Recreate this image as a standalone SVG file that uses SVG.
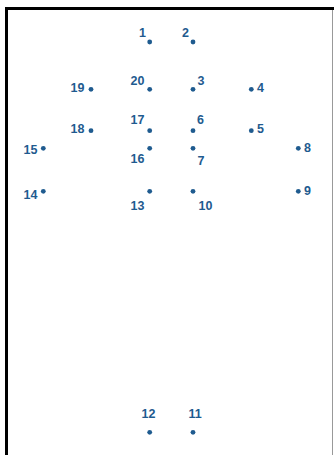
<svg xmlns="http://www.w3.org/2000/svg" width="334" height="455" viewBox="0 0 334 455">
<style>
.d{fill:#1f5b8f}
.t{font-family:"Liberation Sans",Arial,sans-serif;font-weight:bold;font-size:12.5px;fill:#1f5b8f}
.e{text-anchor:end}
</style>
<rect width="334" height="455" fill="#fff"/>
<line x1="5" y1="8.5" x2="334" y2="8.5" stroke="#000" stroke-width="3"/>
<line x1="6.5" y1="7" x2="6.5" y2="455" stroke="#000" stroke-width="3"/>
<line x1="332.5" y1="10" x2="332.5" y2="455" stroke="#999" stroke-width="1"/>
<g id="connectors"></g>
<g id="p1"><circle class="d" cx="149.7" cy="42" r="2.4"/><text class="t e" x="146" y="37">1</text></g>
<g id="p2"><circle class="d" cx="193" cy="42" r="2.4"/><text class="t e" x="189" y="37">2</text></g>
<g id="p3"><circle class="d" cx="193" cy="89.3" r="2.4"/><text class="t" x="197.5" y="85">3</text></g>
<g id="p4"><circle class="d" cx="251.3" cy="89.3" r="2.4"/><text class="t" x="257" y="92">4</text></g>
<g id="p5"><circle class="d" cx="251.3" cy="130.7" r="2.4"/><text class="t" x="257" y="133">5</text></g>
<g id="p6"><circle class="d" cx="193" cy="130.7" r="2.4"/><text class="t" x="197" y="124">6</text></g>
<g id="p7"><circle class="d" cx="193" cy="148.3" r="2.4"/><text class="t" x="197.5" y="165">7</text></g>
<g id="p8"><circle class="d" cx="298.3" cy="148.3" r="2.4"/><text class="t" x="304" y="152">8</text></g>
<g id="p9"><circle class="d" cx="298.3" cy="191.3" r="2.4"/><text class="t" x="304" y="195">9</text></g>
<g id="p10"><circle class="d" cx="193" cy="191.3" r="2.4"/><text class="t" x="198.5" y="210">10</text></g>
<g id="p11"><circle class="d" cx="193" cy="432.3" r="2.4"/><text class="t" x="188.5" y="418">11</text></g>
<g id="p12"><circle class="d" cx="149.7" cy="432.3" r="2.4"/><text class="t" x="141.5" y="418">12</text></g>
<g id="p13"><circle class="d" cx="149.7" cy="191.3" r="2.4"/><text class="t e" x="144.5" y="210">13</text></g>
<g id="p14"><circle class="d" cx="43.3" cy="191.3" r="2.4"/><text class="t e" x="37.5" y="199">14</text></g>
<g id="p15"><circle class="d" cx="43.3" cy="148.3" r="2.4"/><text class="t e" x="37.5" y="154">15</text></g>
<g id="p16"><circle class="d" cx="149.7" cy="148.3" r="2.4"/><text class="t e" x="144.5" y="163">16</text></g>
<g id="p17"><circle class="d" cx="149.7" cy="130.7" r="2.4"/><text class="t e" x="144.5" y="124">17</text></g>
<g id="p18"><circle class="d" cx="91" cy="130.7" r="2.4"/><text class="t e" x="84.5" y="133">18</text></g>
<g id="p19"><circle class="d" cx="91" cy="89.3" r="2.4"/><text class="t e" x="84.5" y="92">19</text></g>
<g id="p20"><circle class="d" cx="149.7" cy="89.3" r="2.4"/><text class="t e" x="144.5" y="85">20</text></g>
</svg>
